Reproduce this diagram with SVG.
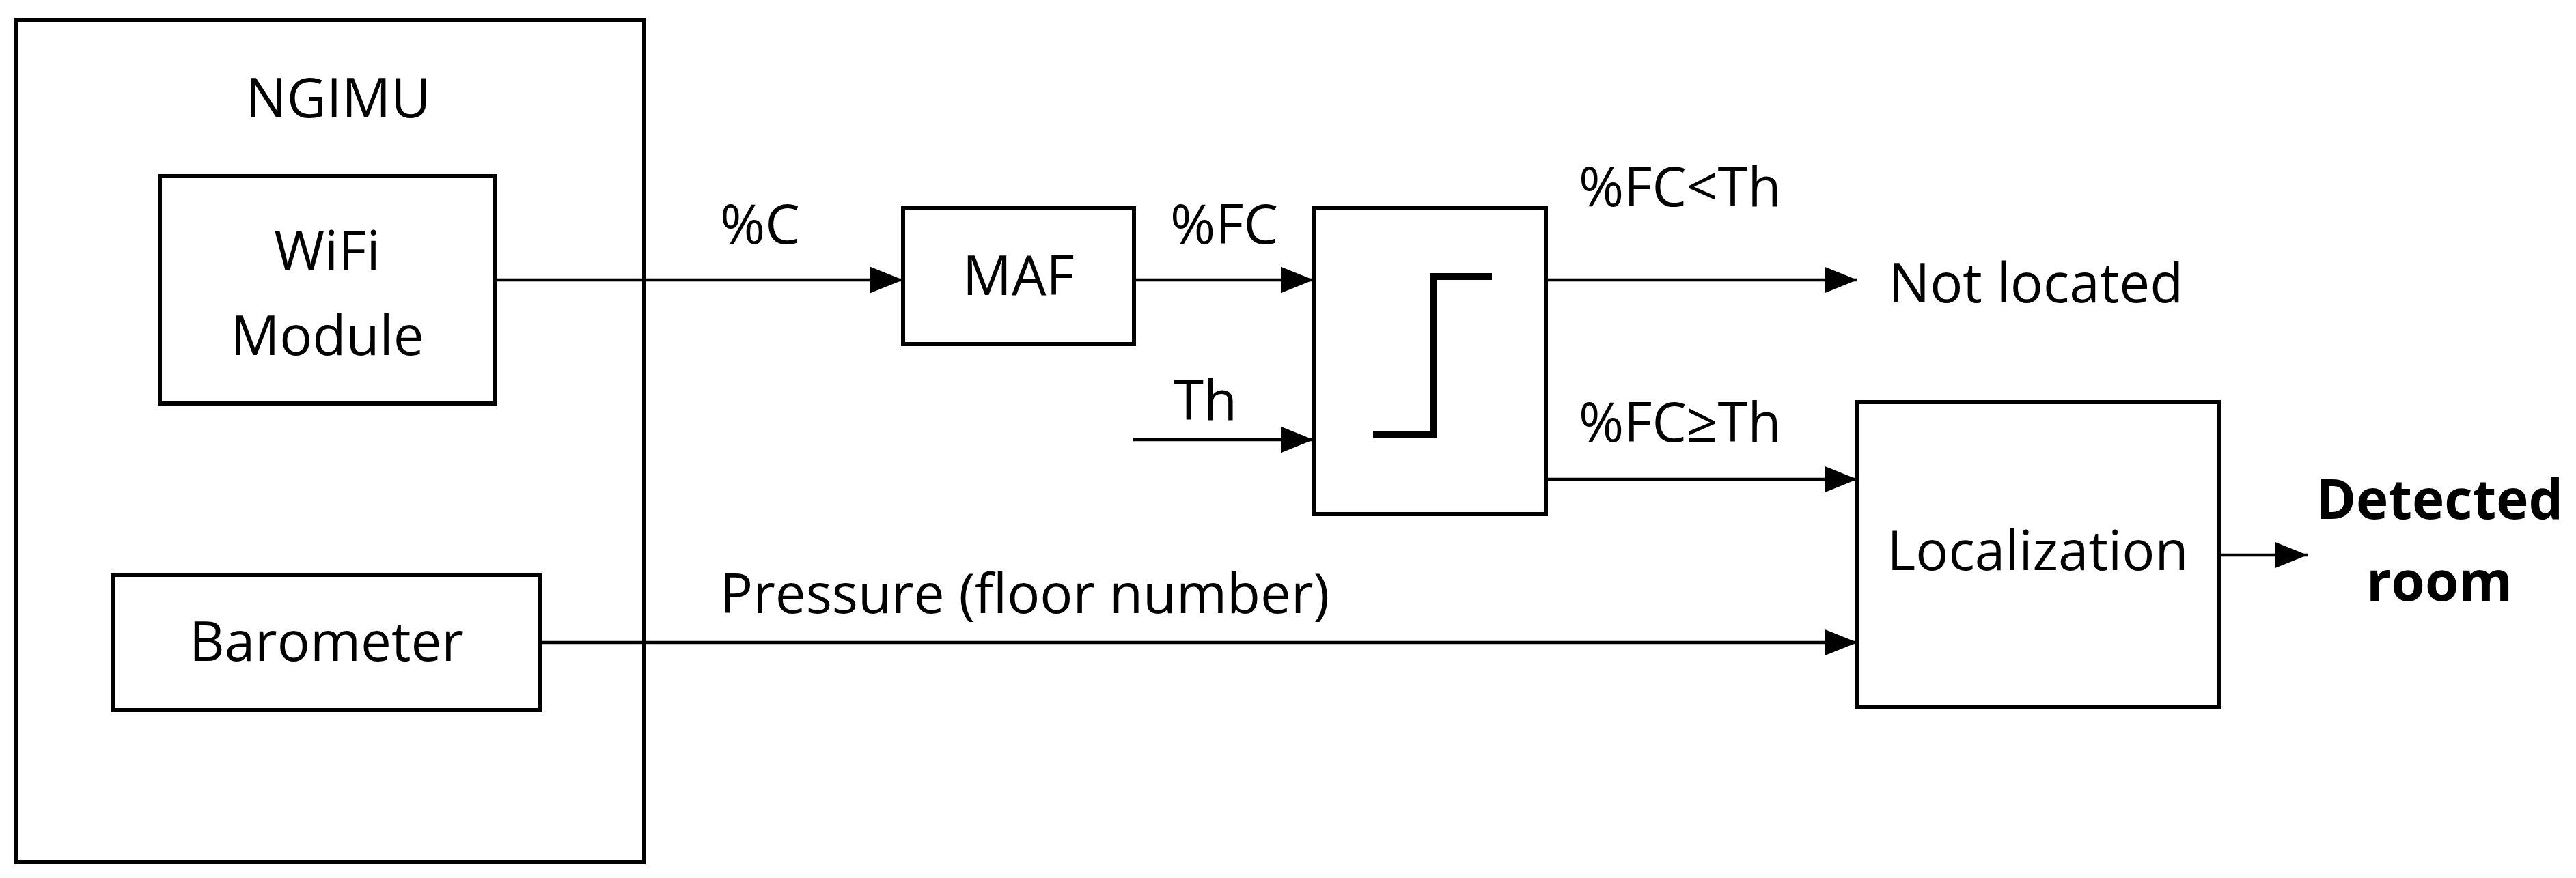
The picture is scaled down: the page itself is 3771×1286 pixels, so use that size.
<svg xmlns="http://www.w3.org/2000/svg" width="3771" height="1286" viewBox="0 0 3771 1286">
<style>
.b{fill:#fff;stroke:#000;stroke-width:6}
.l{fill:none;stroke:#000;stroke-width:4.5}
text{font-family:"Open Sans","Liberation Sans",sans-serif;font-size:80px;fill:#000}
.c{text-anchor:middle}
</style>
<defs><marker id="a" markerWidth="10" markerHeight="8" refX="10" refY="4" orient="auto" markerUnits="userSpaceOnUse" viewBox="0 0 10 8"><path d="M0,0L10,4L0,8z"/></marker>
<marker id="ar" viewBox="0 0 10 8" refX="10" refY="4" markerWidth="48" markerHeight="40" orient="auto" markerUnits="userSpaceOnUse"><path d="M0,0L10,4L0,8z"/></marker></defs>
<g id="ngimu"><rect class="b" x="24" y="29" width="919" height="1233"/><text class="c" x="495" y="172" font-size="96">NGIMU</text></g>
<g id="wifi"><rect class="b" x="234" y="258" width="490" height="333"/><text class="c" x="479" y="396">WiFi</text><text class="c" x="479" y="520">Module</text></g>
<g id="baro"><rect class="b" x="166" y="842" width="625" height="198"/><text class="c" x="478" y="968">Barometer</text></g>
<g id="maf"><rect class="b" x="1322" y="304" width="338" height="200"/><text class="c" x="1491" y="432">MAF</text></g>
<g id="thr"><rect class="b" x="1923" y="304" width="340" height="449"/><polyline points="2010,637 2099,637 2099,405 2184,405" fill="none" stroke="#000" stroke-width="10"/></g>
<g id="loc"><rect class="b" x="2719" y="589" width="529" height="446"/><text class="c" x="2983" y="835">Localization</text></g>
<g id="out"><text class="c" x="3571" y="760" font-weight="bold">Detected</text><text class="c" x="3571" y="880" font-weight="bold">room</text></g>
<g id="connectors">
<line class="l" x1="724" y1="410" x2="1322" y2="410" marker-end="url(#ar)"/>
<line class="l" x1="1660" y1="410" x2="1923" y2="410" marker-end="url(#ar)"/>
<line class="l" x1="1658" y1="644" x2="1923" y2="644" marker-end="url(#ar)"/>
<line class="l" x1="2263" y1="410" x2="2719" y2="410" marker-end="url(#ar)"/>
<line class="l" x1="2263" y1="702" x2="2719" y2="702" marker-end="url(#ar)"/>
<line class="l" x1="791" y1="941" x2="2719" y2="941" marker-end="url(#ar)"/>
<line class="l" x1="3248" y1="813" x2="3378" y2="813" marker-end="url(#ar)"/>
<text x="1054" y="357">%C</text>
<text x="1713" y="357">%FC</text>
<text x="1718" y="615">Th</text>
<text x="2311" y="302">%FC&lt;Th</text>
<text x="2311" y="647">%FC≥Th</text>
<text x="2765" y="443">Not located</text>
<text x="1054" y="898">Pressure (floor number)</text>
</g>
</svg>
